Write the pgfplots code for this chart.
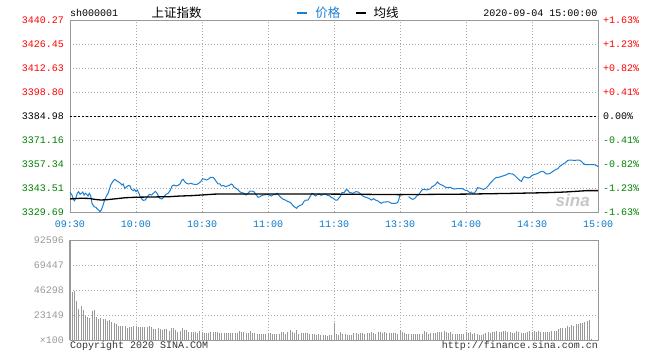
\documentclass[border=0pt]{standalone}
\usepackage{pgfplots}
\pgfplotsset{compat=1.18}
\usepackage{fontspec}
\setmainfont{Liberation Mono}
\newfontfamily\cjk{Noto Sans CJK SC}
\newfontfamily\sinafont{Liberation Sans}
\definecolor{pblue}{HTML}{1B7FD2}
\definecolor{tblue}{HTML}{0A78C8}
\definecolor{pred}{HTML}{FF0000}
\definecolor{pgreen}{HTML}{008000}
\definecolor{axgray}{HTML}{999999}
\definecolor{gridgray}{HTML}{AAAAAA}
\begin{document}
\begin{tikzpicture}[font=\fontsize{10}{12}\selectfont]
\path[use as bounding box] (0,0) rectangle (660pt,360pt);
\pgfplotsset{
  common/.style={
    scale only axis, width=528pt, xmin=0, xmax=240,
    xtick={0,30,...,240},
    axis line style={draw=axgray, line width=0.9pt},
    major tick length=0pt,
    grid=major,
    grid style={gridgray, line width=0.8pt, dash pattern=on 1pt off 2pt},
    clip=false,
    scaled y ticks=false,
  }
}
% ---------------- price chart ----------------
\begin{axis}[common,
  at={(70pt,148pt)}, anchor=south west, height=192pt,
  ymin=3329.69, ymax=3440.27,
  ytick={3329.69,3343.51,3357.34,3371.16,3384.98,3398.80,3412.63,3426.45,3440.27},
  yticklabels={\textcolor{pgreen}{3329.69},\textcolor{pgreen}{3343.51},\textcolor{pgreen}{3357.34},\textcolor{pgreen}{3371.16},3384.98,\textcolor{pred}{3398.80},\textcolor{pred}{3412.63},\textcolor{pred}{3426.45},\textcolor{pred}{3440.27}},
  yticklabel style={inner sep=0pt, xshift=-6pt},
  xticklabels={09:30,10:00,10:30,11:00,11:30,13:30,14:00,14:30,15:00},
  xticklabel style={inner sep=0pt, yshift=-8.5pt, text=tblue},
  unbounded coords=jump,
  legend columns=2,
  legend style={at={(axis description cs:0.527,1.036)}, anchor=center, draw=none, fill=none, inner sep=0pt,
    font=\cjk\fontsize{12.5}{14}\selectfont,
    /tikz/every even column/.append style={column sep=12pt}},
  legend image code/.code={\draw[line width=2.5pt] (0pt,0pt) -- (10pt,0pt); \path[draw=none,fill=none] (0pt,-1pt) rectangle (16pt,1pt);},
]
\addplot[black, line width=0.9pt, dash pattern=on 2pt off 2pt, forget plot] coordinates {(0,3384.98) (240,3384.98)};
\addplot[pblue, line width=1pt] coordinates {
(0,3341.00) (0.9,3339.48) (1.5,3336.98) (2.1,3336.21) (2.7,3337.94) (3.3,3340.44) (3.9,3341.40) (4.6,3339.86) (5.2,3340.44) (5.8,3341.21) (6.4,3339.48) (7.0,3340.44) (7.6,3339.86) (8.2,3338.90) (8.8,3340.44) (9.4,3339.09)
(10.0,3334.67) (10.9,3332.75) (11.8,3332.37) (12.4,3331.41) (13.0,3330.83) (13.6,3329.87) (14.2,3330.83) (14.9,3333.14) (15.5,3335.63) (16.4,3338.52) (17.3,3340.44) (17.9,3342.74) (18.5,3345.24) (19.4,3347.16)
(20.3,3348.50) (21.2,3347.74) (22.1,3346.97) (23.0,3346.20) (23.6,3345.24) (24.2,3345.82) (24.9,3343.32) (25.8,3344.28) (26.7,3345.05) (27.3,3344.66) (27.9,3342.74) (28.8,3341.97) (29.4,3342.74)
(30.0,3341.40) (30.6,3342.36) (31.2,3340.82) (31.8,3338.90) (32.4,3337.56) (33.3,3336.40) (34.2,3336.60) (35.2,3338.52) (36.1,3339.86) (37.0,3339.48) (37.9,3340.44) (38.8,3341.59) (39.4,3340.82)
(40.0,3339.28) (40.9,3337.56) (41.8,3337.17) (42.7,3338.52) (43.6,3339.86) (44.6,3340.44) (45.5,3341.97) (46.4,3344.66) (47.3,3345.24) (48.2,3344.66) (49.1,3345.05)
(50.0,3345.82) (50.9,3348.12) (51.5,3348.50) (52.1,3347.16) (53.0,3346.20) (53.9,3345.82) (54.9,3346.20) (55.8,3345.82) (56.7,3345.62) (57.6,3345.62) (58.5,3346.20) (59.4,3347.16)
(60.3,3348.89) (61.2,3348.50) (62.1,3348.12) (63.0,3348.70) (63.9,3349.66) (64.9,3349.66) (65.5,3349.08) (66.4,3347.35) (67.3,3345.82) (68.2,3345.82) (68.8,3344.66) (69.7,3345.05)
(70.6,3344.28) (71.5,3344.66) (72.4,3345.05) (73.3,3345.82) (73.9,3345.43) (74.6,3343.89) (75.5,3343.32) (76.4,3342.36) (77.3,3341.21) (78.2,3340.82) (79.1,3340.44)
(80.0,3339.48) (80.9,3340.44) (81.8,3341.78) (82.7,3341.78) (83.6,3341.40) (84.6,3339.67) (85.5,3338.13) (86.4,3338.52) (87.3,3339.28) (88.2,3339.48) (89.1,3339.67)
(90.0,3339.67) (90.9,3339.28) (91.5,3338.90) (92.4,3339.67) (93.3,3339.67) (94.2,3340.44) (95.2,3338.90) (96.1,3337.75) (97.0,3336.98) (97.9,3336.60) (98.8,3335.83) (99.7,3335.44)
(100.6,3334.67) (101.5,3333.14) (102.4,3332.37) (103.0,3331.79) (103.6,3332.75) (104.6,3333.52) (105.5,3333.91) (106.4,3335.83) (107.3,3336.60) (108.2,3336.60) (109.1,3338.52)
(110.0,3340.44) (110.6,3340.05) (111.5,3338.90) (112.4,3339.67) (113.3,3340.05) (114.2,3339.28) (115.2,3339.86) (116.1,3340.05) (117.0,3339.28) (117.9,3339.09) (118.8,3338.13) (119.7,3337.56)
(120.6,3336.60) (121.5,3336.60) (122.1,3337.56) (123.0,3338.90) (123.6,3340.82) (124.6,3340.82) (125.2,3341.97) (125.8,3342.74) (126.4,3341.97) (127.0,3341.01) (127.6,3340.82) (128.5,3340.44) (129.1,3340.82)
(130.0,3341.40) (130.9,3341.21) (131.8,3340.44) (132.7,3339.28) (133.6,3338.52) (134.6,3338.13) (135.5,3337.75) (136.1,3337.36) (137.0,3336.60) (137.9,3337.36) (138.8,3336.60) (139.7,3336.21)
(140.6,3335.44) (141.5,3334.67) (142.4,3335.44) (143.3,3335.44) (144.2,3335.63) (145.2,3335.44) (146.1,3334.67) (147.0,3334.67) (147.9,3334.67) (148.8,3335.06) (149.4,3336.60) (150.0,3339.67)
(152.0,nan)
(153.9,3338.52) (154.9,3337.56) (155.8,3336.98) (156.7,3337.56) (157.6,3338.90) (158.5,3339.67) (159.4,3341.40)
(160.3,3342.74) (161.2,3342.74) (162.1,3342.36) (163.0,3342.74) (163.9,3343.13) (164.6,3344.28) (165.2,3344.66) (166.1,3345.43) (167.0,3346.97) (167.6,3346.20) (168.5,3345.43) (169.4,3345.05)
(170.3,3344.28) (171.2,3343.70) (172.1,3343.89) (173.0,3343.89) (173.9,3343.13) (174.9,3342.93) (175.8,3343.13) (176.7,3343.13) (177.6,3343.13) (178.5,3343.13) (179.4,3342.36)
(180.6,3341.97) (181.2,3341.40) (181.8,3340.82) (182.4,3341.21) (183.0,3340.44) (183.9,3340.82) (184.6,3341.97) (185.2,3343.70) (186.1,3343.51) (187.0,3343.13) (187.9,3342.74) (188.8,3343.13) (189.4,3343.89)
(190.3,3345.05) (191.2,3346.58) (192.1,3347.74) (193.0,3348.89) (193.9,3349.66) (194.9,3349.66) (195.8,3350.04) (196.7,3350.42) (197.6,3350.81) (198.5,3351.19) (199.4,3351.96)
(200.3,3351.58) (201.2,3351.58) (202.1,3350.81) (202.7,3350.04) (203.6,3348.89) (204.6,3347.74) (205.2,3347.35) (205.8,3348.89) (206.4,3350.04) (207.3,3349.66) (208.2,3349.27) (209.1,3349.66)
(210.0,3350.81) (210.9,3351.19) (211.8,3351.58) (212.7,3351.96) (213.6,3352.73) (214.6,3353.11) (215.5,3352.73) (216.4,3351.58) (217.3,3351.58) (218.2,3351.96) (219.1,3352.73)
(220.0,3353.50) (220.9,3354.27) (221.8,3354.65) (222.4,3355.80) (223.3,3356.57) (224.2,3357.34) (225.2,3358.11) (226.1,3359.26) (227.0,3359.64) (227.9,3359.64) (228.8,3359.45) (229.7,3359.45)
(230.6,3359.64) (231.5,3359.64) (232.4,3358.88) (233.3,3357.72) (234.2,3356.96) (235.2,3356.96) (236.1,3356.96) (237.0,3356.96) (237.9,3356.96) (238.8,3356.76) (239.7,3356.19) (240.0,3355.80)
};
\addlegendentry{\textcolor{pblue}{价格}}
\addplot[black, line width=1.3pt] coordinates {
(0,3337.2) (2,3337.4) (5,3337.6) (9,3337.5) (11,3337.0) (14,3336.6) (17,3336.8) (20,3337.2) (25,3337.9) (30,3338.2) (40,3338.4) (45,3338.5) (50,3338.9) (55,3339.1) (60,3339.5) (66,3340.0) (80,3340.05) (120,3340.0) (150,3339.7) (180,3340.0) (200,3340.4) (216,3340.8) (225,3341.2) (235,3342.0) (240,3342.0)
};
\addlegendentry{均线}
\node[text=black!22, font=\sinafont\bfseries\itshape\fontsize{17}{17}\selectfont] at (axis cs:228.5,3336.4) {sina};
\end{axis}
% right-hand percentage labels
\begin{axis}[
  at={(70pt,148pt)}, anchor=south west, scale only axis, width=528pt, height=192pt,
  xmin=0, xmax=240, ymin=3329.69, ymax=3440.27,
  hide x axis, axis y line*=right, axis line style={draw=none}, major tick length=0pt,
  ytick={3329.69,3343.51,3357.34,3371.16,3384.98,3398.80,3412.63,3426.45,3440.27},
  yticklabels={\textcolor{pgreen}{-1.63\%},\textcolor{pgreen}{-1.23\%},\textcolor{pgreen}{-0.82\%},\textcolor{pgreen}{-0.41\%},0.00\%,\textcolor{pred}{+0.41\%},\textcolor{pred}{+0.82\%},\textcolor{pred}{+1.23\%},\textcolor{pred}{+1.63\%}},
  yticklabel style={inner sep=0pt, xshift=5pt},
]
\end{axis}
% ---------------- volume chart ----------------
\begin{axis}[common,
  at={(70pt,20pt)}, anchor=south west, height=100pt,
  ymin=0, ymax=92596,
  ytick={0,23149,46298,69447,92596},
  yticklabels={×100,23149,46298,69447,92596},
  yticklabel style={inner sep=0pt, xshift=-6pt, text=axgray},
  xticklabels={},
]
\addplot[ycomb, draw=axgray, line width=1pt] coordinates {
(1,44750) (2,45370) (3,36420) (4,28700) (5,31790) (6,27780) (7,23460) (8,21300) (9,20370) (10,27160)
(11,27780) (12,21610) (13,19750) (14,20370) (15,19750) (16,19140) (17,17900) (18,18520) (19,16980) (20,16050)
(21,14820) (22,12960) (23,12960) (24,12960) (25,12960) (26,11420) (27,12040) (28,12040) (29,12650) (30,12960)
(31,12350) (32,12350) (33,12040) (34,12040) (35,12040) (36,12960) (37,11730) (38,10190) (39,10190) (40,10800)
(41,9880) (42,8950) (43,10490) (44,10190) (45,8640) (46,11110) (47,10800) (48,9260) (49,7720) (50,8640)
(51,10800) (52,9570) (53,9260) (54,7720) (55,7410) (56,7720) (57,7100) (58,6790) (59,8640) (60,7410)
(61,6790) (62,6790) (63,6790) (64,7100) (65,7410) (66,7410) (67,7410) (68,6790) (69,6790) (70,6480)
(71,6480) (72,6790) (73,6480) (74,6790) (75,6790) (76,6790) (77,8020) (78,7410) (79,7100) (80,6170)
(81,6480) (82,8020) (83,6790) (84,6170) (85,5860) (86,5860) (87,5860) (88,5560) (89,5860) (90,5250)
(91,6170) (92,5560) (93,5560) (94,5860) (95,5860) (96,7410) (97,7100) (98,5560) (99,7720) (100,8950)
(101,7720) (102,6480) (103,9260) (104,5560) (105,6170) (106,6170) (107,6170) (108,6480) (109,5250) (110,5560)
(111,5250) (112,4940) (113,5250) (114,4630) (115,4630) (116,4940) (117,4010) (118,4940) (119,4320) (120,16050)
(121,5560) (122,4630) (123,7410) (124,5860) (125,5560) (126,4630) (127,4630) (128,4630) (129,6170) (130,6790)
(131,5560) (132,6170) (133,6480) (134,5560) (135,6480) (136,6480) (137,7100) (138,6480) (139,5560) (140,7100)
(141,7100) (142,6480) (143,7410) (144,6480) (145,6480) (146,6480) (147,6480) (148,6480) (149,5250) (150,8950)
(151,7410) (152,6790) (153,5860) (154,5860) (155,5560) (156,5560) (157,5560) (158,5560) (159,5560) (160,5560)
(161,8330) (162,7720) (163,5860) (164,6170) (165,6790) (166,6170) (167,7720) (168,7100) (169,7720) (170,8330)
(171,7410) (172,6170) (173,7100) (174,5560) (175,5250) (176,5250) (177,5560) (178,5250) (179,5560) (180,7100)
(181,6790) (182,7720) (183,5860) (184,6480) (185,5560) (186,4940) (187,4940) (188,5250) (189,6170) (190,7410)
(191,6790) (192,7410) (193,7720) (194,8330) (195,7720) (196,7410) (197,8020) (198,8330) (199,7410) (200,7720)
(201,6170) (202,6480) (203,8640) (204,7100) (205,6170) (206,6170) (207,6480) (208,7720) (209,8020) (210,7410)
(211,8020) (212,7410) (213,8020) (214,7720) (215,7720) (216,7410) (217,7410) (218,7410) (219,8330) (220,8330)
(221,8330) (222,9880) (223,10800) (224,10800) (225,10800) (226,12650) (227,12040) (228,13890) (229,12960) (230,14820)
(231,14820) (232,16050) (233,16050) (234,16980) (235,17590) (236,18520) (237,930)
};
\draw[axgray, line width=2pt] (rel axis cs:0,0) -- (rel axis cs:0,1);
\end{axis}
% header and footer texts
\node[anchor=west, inner sep=0pt] at (70pt,347pt) {sh000001};
\node[inner sep=0pt, font=\cjk\fontsize{12.5}{14}\selectfont] at (176.5pt,347pt) {上证指数};
\node[anchor=east, inner sep=0pt] at (597.5pt,347pt) {2020-09-04 15:00:00};
\node[anchor=west, inner sep=0pt, text=black!80] at (70pt,14pt) {Copyright 2020 SINA.COM};
\node[anchor=east, inner sep=0pt, text=black!80] at (598pt,14pt) {http://finance.sina.com.cn};
\end{tikzpicture}
\end{document}
